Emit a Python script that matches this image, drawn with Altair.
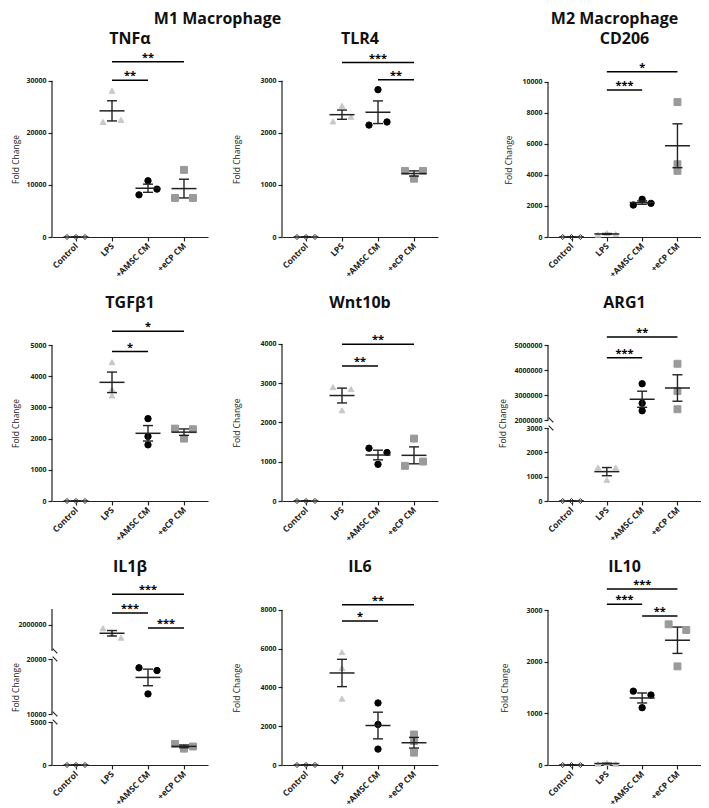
import altair as alt
import pandas as pd
import numpy as np

FONT = "Open Sans"
INK = "#222222"

GROUPS = ["Control", "LPS", "+AMSC CM", "+eCP CM"]
SHAPES = ["diamond", "triangle-up", "circle", "square"]
FILLS = ["#ffffff", "#c8c8c8", "#000000", "#9a9a9a"]
STROKES = ["#2b2b2b", "#c8c8c8", "#000000", "#9a9a9a"]
SIZES = [26, 48, 42, 42]

# replicate values per group (Control, LPS, +AMSC CM, +eCP CM), read left->right
TNFA = [[0, 0, 0], [22100, 28100, 22500], [8100, 10800, 9200], [7500, 12900, 7500]]
TLR4 = [[0, 0, 0], [2220, 2520, 2310], [2150, 2830, 2210], [1270, 1120, 1270]]
CD206 = [[0, 0, 0], [150, 250, 190], [2060, 2430, 2170], [8700, 4690, 4260]]
TGFB1 = [[0, 0, 0], [3580, 4450, 3380], [2640, 2070, 1800], [2320, 2000, 2300]]
WNT10B = [[0, 0, 0], [2900, 2310, 2850], [1345, 935, 1235], [895, 1590, 1005]]
ARG1 = [[0, 0, 0], [1375, 870, 1375], [3450000, 2670000, 2370000], [4250000, 3160000, 2430000]]
IL1B = [[0, 0, 0], [1865000, 1660000, 1505000], [18400, 13650, 17900], [2450, 1900, 2150]]
IL6 = [[0, 0, 0], [5820, 5000, 3420], [3200, 2090, 820], [1575, 1235, 635]]
IL10 = [[0, 0, 0], [25, 40, 20], [1430, 1110, 1355], [2725, 1910, 2615]]

# significance brackets: (group from, group to, bracket level, label)
TNFA_SIG = [(1, 3, 33650, "**"), (1, 2, 30100, "**")]
TLR4_SIG = [(1, 3, 3350, "***"), (2, 3, 3020, "**")]
CD206_SIG = [(1, 3, 10650, "*"), (1, 2, 9480, "***")]
TGFB1_SIG = [(1, 3, 5440, "*"), (1, 2, 4790, "*")]
WNT10B_SIG = [(1, 3, 3990, "**"), (1, 2, 3440, "**")]
ARG1_SIG = [(1, 3, 5320000, "**"), (1, 2, 4490000, "***")]
IL1B_SIG = [(1, 3, 3170000, "***"), (1, 2, 2450000, "***"), (2, 3, 1880000, "***")]
IL6_SIG = [(1, 3, 8270, "**"), (1, 2, 7430, "*")]
IL10_SIG = [(1, 3, 3410, "***"), (1, 2, 3115, "***"), (2, 3, 2885, "**")]

# y-axis segments (bottom->top): (scale low, scale high, pixel height, top of axis line)
TNFA_SEG = [(0, 36500, 190, 30000)]
TLR4_SEG = [(0, 3650, 190, 3000)]
CD206_SEG = [(0, 12250, 190, 10000)]
TGFB1_SEG = [(0, 6090, 190, 5000)]
WNT10B_SEG = [(0, 4840, 190, 4000)]
ARG1_SEG = [(0, 3000, 73, 3000), (2000000, 6360000, 109, 5000000)]
IL1B_SEG = [(0, 5000, 43, 5000), (10000, 20000, 55, 20000), (1000000, 3900000, 76, 2600000)]
IL6_SEG = [(0, 9800, 190, 8000)]
IL10_SEG = [(0, 3680, 190, 3000)]

TNFA_TICKS = [0, 10000, 20000, 30000]
TLR4_TICKS = [0, 1000, 2000, 3000]
CD206_TICKS = [0, 2000, 4000, 6000, 8000, 10000]
TGFB1_TICKS = [0, 1000, 2000, 3000, 4000, 5000]
WNT10B_TICKS = [0, 1000, 2000, 3000, 4000]
ARG1_TICKS = [0, 1000, 2000, 3000, 2000000, 3000000, 4000000, 5000000]
IL1B_TICKS = [0, 5000, 10000, 20000, 2000000]
IL6_TICKS = [0, 2000, 4000, 6000, 8000]
IL10_TICKS = [0, 1000, 2000, 3000]

H = 190
GAP = 8
XDOM = [-0.667, 3.667]
SLOT = 0.25


def jitter(vals, ppu, thresh=6.0):
    n = len(vals)
    comp = [-1] * n
    c = 0
    for i in range(n):
        if comp[i] >= 0:
            continue
        stack = [i]
        comp[i] = c
        while stack:
            k = stack.pop()
            for j in range(n):
                if comp[j] < 0 and abs(vals[k] - vals[j]) * ppu < thresh:
                    comp[j] = c
                    stack.append(j)
        c += 1
    offs = [0.0] * n
    for cc in range(c):
        mem = [i for i in range(n) if comp[i] == cc]
        if len(mem) == 1:
            continue
        pos = np.linspace(-1, 1, len(mem))
        for p, i in zip(pos, mem):
            offs[i] = float(p) * SLOT
    return offs


def make_panel(title, vals, sig, segs, ticks, tx, width):
    dom, rng = [], []
    y = H
    for lo, hi, h, ax in segs:
        dom += [lo, hi]
        rng += [y, y - h]
        y = y - h - GAP

    def px(v):
        return float(np.interp(v, dom, rng))

    pts, st = [], []
    for gi, vs in enumerate(vals):
        m = float(np.mean(vs))
        sem = float(np.std(vs, ddof=1) / np.sqrt(len(vs)))
        seg = segs[0]
        for s in segs:
            if s[0] <= m <= s[1]:
                seg = s
        ppu = seg[2] / (seg[1] - seg[0])
        offs = jitter(vs, ppu)
        for v, o in zip(vs, offs):
            pts.append(dict(group=GROUPS[gi], idx=gi, xpos=gi + o, value=v))
        st.append(dict(group=GROUPS[gi], idx=gi, mean=m, lo=m - sem, hi=m + sem))
    pts = pd.DataFrame(pts)
    st = pd.DataFrame(st)
    axdf = pd.DataFrame([dict(lo=s[0], top=s[3]) for s in segs])
    brk = []
    for i, s in enumerate(segs):
        if i > 0:
            brk.append(s[0])
        if i < len(segs) - 1:
            brk.append(s[3])
    brkdf = pd.DataFrame(dict(v=brk))
    sigdf = pd.DataFrame([dict(x1=a, x2=b, xm=(a + b) / 2, y=yy, label=l) for a, b, yy, l in sig])

    ty = (px(segs[-1][3]) + H) / 2
    yscale = alt.Scale(domain=dom, range=rng, nice=False, zero=False)
    xscale = alt.Scale(domain=XDOM, nice=False, zero=False)
    yaxis = alt.Axis(values=ticks, format="d", domain=False, grid=False, tickSize=4, tickWidth=1.2,
                     tickColor=INK, labelFont=FONT, labelFontSize=7, labelFontWeight="bold",
                     labelColor=INK, labelPadding=2, labelOverlap=False, title="Fold Change",
                     titleFont=FONT, titleFontSize=8.5, titleFontWeight="normal", titleColor=INK,
                     titleX=tx, titleY=ty, titleAngle=-90, titleAlign="center",
                     titleBaseline="middle")
    lab = "[" + ",".join("'" + g + "'" for g in GROUPS) + "][datum.value]"
    xaxis = alt.Axis(values=[0, 1, 2, 3], labelExpr=lab, labelAngle=-45, labelAlign="right",
                     labelBaseline="middle", labelFont=FONT, labelFontSize=8.5,
                     labelFontWeight="bold", labelColor=INK, labelPadding=3, labelOverlap=False,
                     labelBound=False, tickSize=4, tickWidth=1.2, tickColor=INK,
                     domainColor=INK, domainWidth=1.2, grid=False, title=None)

    def X(f):
        return alt.X(f + ":Q", scale=xscale, axis=xaxis)

    def Y(f):
        return alt.Y(f + ":Q", scale=yscale, axis=yaxis)

    layers = [
        alt.Chart(axdf).mark_rule(color=INK, strokeWidth=1.2).encode(
            x=alt.value(0), y=Y("lo"), y2=alt.Y2("top")),
    ]
    if len(brk):
        layers.append(alt.Chart(brkdf).mark_point(shape="M -1 -1 L 1 1", size=22, strokeWidth=1.1,
                                                  color=INK, filled=False, opacity=1).encode(
            x=alt.value(3), y=Y("v")))
    layers += [
        alt.Chart(pts).mark_point(opacity=1, strokeWidth=1).encode(
            x=X("xpos"), y=Y("value"),
            shape=alt.Shape("group:N", scale=alt.Scale(domain=GROUPS, range=SHAPES), legend=None),
            fill=alt.Fill("group:N", scale=alt.Scale(domain=GROUPS, range=FILLS), legend=None),
            stroke=alt.Stroke("group:N", scale=alt.Scale(domain=GROUPS, range=STROKES), legend=None),
            size=alt.Size("group:N", scale=alt.Scale(domain=GROUPS, range=SIZES), legend=None)),
        alt.Chart(st).mark_rule(color=INK, strokeWidth=1.4).encode(
            x=X("idx"), y=Y("lo"), y2=alt.Y2("hi")),
        alt.Chart(st).mark_tick(orient="horizontal", size=10, thickness=1.4, color=INK, opacity=1).encode(
            x=X("idx"), y=Y("lo")),
        alt.Chart(st).mark_tick(orient="horizontal", size=10, thickness=1.4, color=INK, opacity=1).encode(
            x=X("idx"), y=Y("hi")),
        alt.Chart(st).mark_tick(orient="horizontal", size=25, thickness=1.5, color=INK, opacity=1).encode(
            x=X("idx"), y=Y("mean")),
        alt.Chart(sigdf).mark_rule(color="#000", strokeWidth=1.5).encode(
            x=X("x1"), x2=alt.X2("x2"), y=Y("y")),
        alt.Chart(sigdf).mark_text(font=FONT, fontSize=11, fontWeight="bold", baseline="alphabetic",
                                   dy=-1, color="#000").encode(
            x=X("xm"), y=Y("y"), text="label:N"),
    ]
    return alt.layer(*layers).properties(
        width=width, height=H,
        title=alt.TitleParams(title, font=FONT, fontSize=16, fontWeight="bold", color="#111",
                              anchor="middle", frame="group", offset=3, dy=16,
                              baseline="alphabetic"))


VSP = 16
col1 = alt.vconcat(
    make_panel("TNFα", TNFA, TNFA_SIG, TNFA_SEG, TNFA_TICKS, -37, 156),
    make_panel("TGFβ1", TGFB1, TGFB1_SIG, TGFB1_SEG, TGFB1_TICKS, -37, 156),
    make_panel("IL1β", IL1B, IL1B_SIG, IL1B_SEG, IL1B_TICKS, -37, 156),
    spacing=VSP)
col2 = alt.vconcat(
    make_panel("TLR4", TLR4, TLR4_SIG, TLR4_SEG, TLR4_TICKS, -46, 156),
    make_panel("Wnt10b", WNT10B, WNT10B_SIG, WNT10B_SEG, WNT10B_TICKS, -46, 156),
    make_panel("IL6", IL6, IL6_SIG, IL6_SEG, IL6_TICKS, -46, 156),
    spacing=VSP)
col3 = alt.vconcat(
    make_panel("CD206", CD206, CD206_SIG, CD206_SEG, CD206_TICKS, -40, 153),
    make_panel("ARG1", ARG1, ARG1_SIG, ARG1_SEG, ARG1_TICKS, -46, 153),
    make_panel("IL10", IL10, IL10_SIG, IL10_SEG, IL10_TICKS, -44, 153),
    spacing=VSP)

left = alt.hconcat(col1, col2, spacing=23).properties(
    title=alt.TitleParams("M1 Macrophage", font=FONT, fontSize=16, fontWeight="bold", color="#111",
                          anchor="middle", offset=8, dx=-7, dy=17, baseline="alphabetic"))
right = col3.properties(
    title=alt.TitleParams("M2 Macrophage", font=FONT, fontSize=16, fontWeight="bold", color="#111",
                          anchor="middle", offset=8, dx=15, dy=17, baseline="alphabetic"))

chart = alt.hconcat(left, right, spacing=60).properties(
    padding={"left": 3, "top": 3, "right": 0, "bottom": 0}, background="white"
).configure_view(stroke=None)

chart.save("out.html", embed_options={"renderer": "svg", "actions": False})
